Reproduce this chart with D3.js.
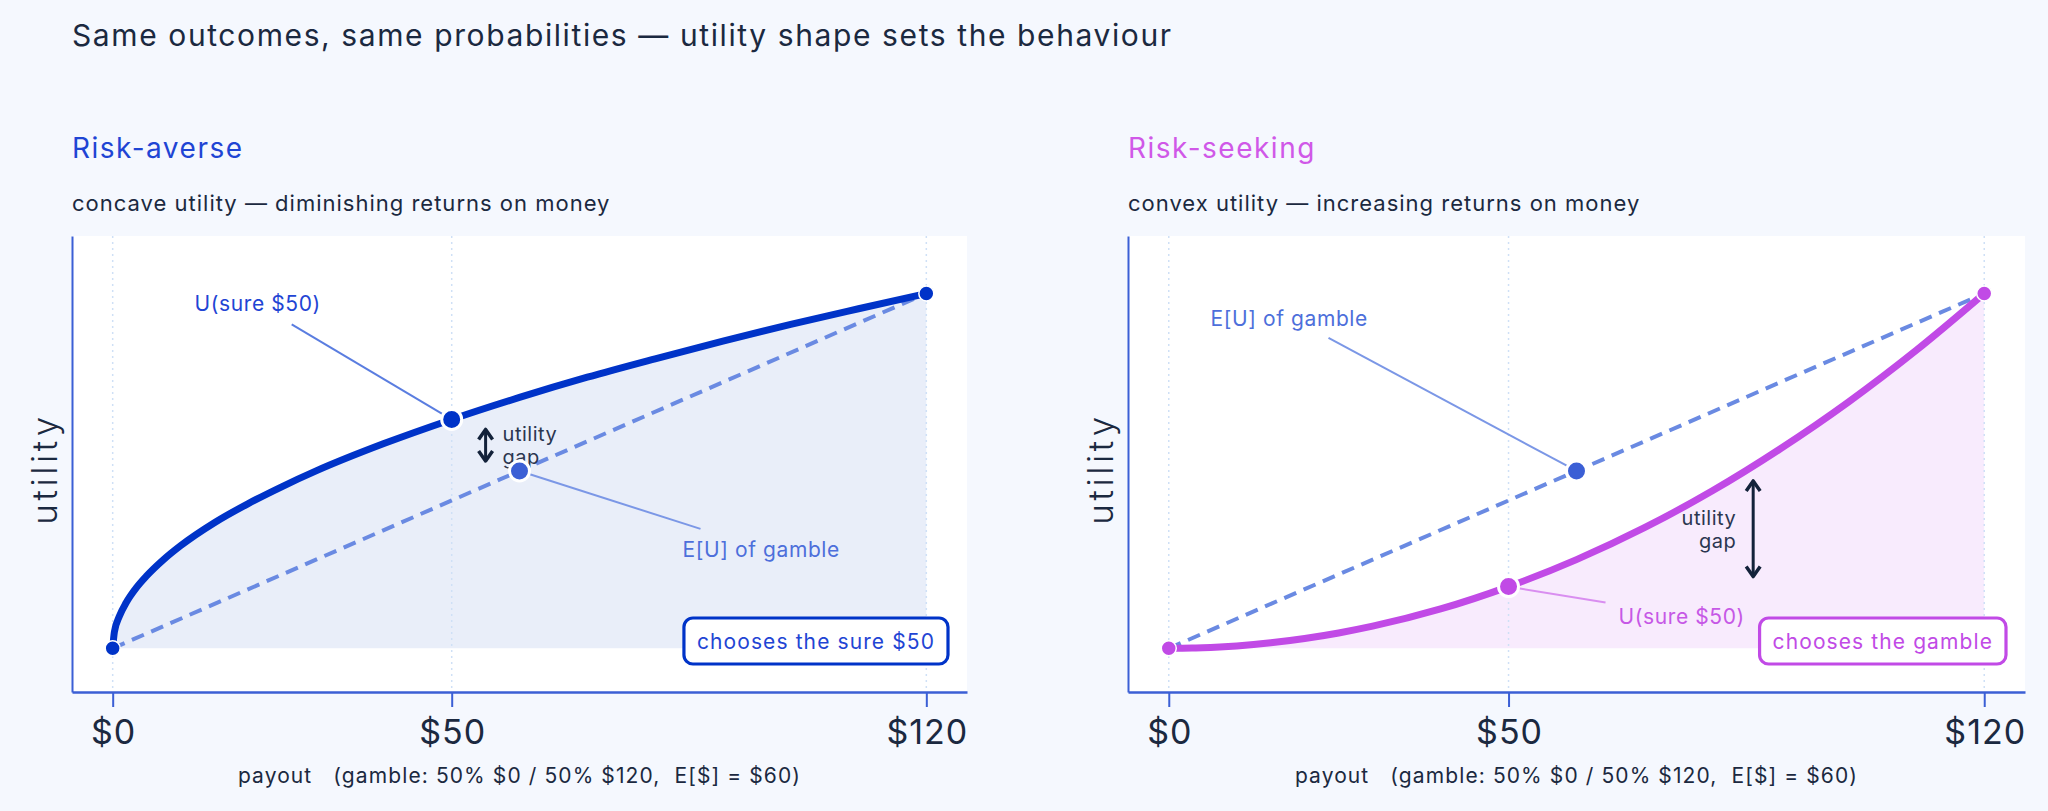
<!DOCTYPE html>
<html>
<head>
<meta charset="utf-8">
<script src="https://cdn.jsdelivr.net/npm/d3@7"></script>
<style>
  body { margin: 0; background: #f5f8fe; }
  svg text { font-family: Inter, 'Noto Sans', sans-serif; }
</style>
</head>
<body>
<div id="chart"></div>
<script>
// values (utility normalised 0..1)
const payouts = [0, 0.25, 1, 2, 3.5, 5, 7.5, 10, 15, 20, 25, 30, 40, 50, 60, 70, 80, 90, 100, 110, 120]
const concaveUtility = [0, 0.046, 0.091, 0.129, 0.171, 0.204, 0.25, 0.289, 0.354, 0.408, 0.456, 0.5, 0.577, 0.645, 0.707, 0.764, 0.816, 0.866, 0.913, 0.957, 1]
const convexUtility = [0, 0, 0.0001, 0.0003, 0.0009, 0.0017, 0.0039, 0.0069, 0.0156, 0.0278, 0.0434, 0.0625, 0.111, 0.174, 0.25, 0.34, 0.444, 0.5625, 0.694, 0.84, 1]
const gamblePayouts = [0, 120]
const gambleUtility = [0, 1]
const sureAmount = 50
const gambleMean = 60
const gambleMeanUtility = 0.5
const gapPayout = [55, 86]
const tickValues = [0, 50, 120]
const tickLabels = ['$0', '$50', '$120']
const xDomain = [-6, 126]
const yDomain = [-0.123, 1.162]

const W = 2048, H = 811
const TOP = 236, BOTTOM = 692
const INK = '#1b2940'

const panels = [
  {
    x0: 72, x1: 967,
    title: 'Risk-averse', subtitle: 'concave utility \u2014 diminishing returns on money',
    utility: concaveUtility, gapAt: gapPayout[0],
    curve: '#0033c8', titleColor: '#1f45d4', fill: '#e9eef9', leader: '#5a7de0', verdictText: '#1f45d4',
    verdict: 'chooses the sure $50',
    sureLabel: { dx: -194, dy: -116, anchor: 'middle', lx: -160, ly: -95, color: '#1f45d4' },
    evLabel: { dx: 163, dy: 79, anchor: 'start', lx: 181, ly: 58 },
    gapSide: 'right',
  },
  {
    x0: 1128, x1: 2025,
    title: 'Risk-seeking', subtitle: 'convex utility \u2014 increasing returns on money',
    utility: convexUtility, gapAt: gapPayout[1],
    curve: '#c14ae6', titleColor: '#d058e8', fill: '#f8ebfd', leader: '#d98ef0', verdictText: '#c14ae6',
    verdict: 'chooses the gamble',
    sureLabel: { dx: 110, dy: 30, anchor: 'start', lx: 97, ly: 16, color: '#c658e6' },
    evLabel: { dx: -366, dy: -152, anchor: 'start', lx: -248, ly: -133 },
    gapSide: 'left',
  },
]

function createSVG(container) {
  return d3.select(container)
    .append('svg')
    .attr('width', W)
    .attr('height', H)
    .style('display', 'block')
}

function leaderLine(g, from, to, r, color) {
  const dx = to[0] - from[0], dy = to[1] - from[1]
  const len = Math.hypot(dx, dy)
  g.append('line')
    .attr('x1', from[0]).attr('y1', from[1])
    .attr('x2', to[0] - dx / len * r).attr('y2', to[1] - dy / len * r)
    .attr('stroke', color)
    .attr('stroke-width', 2)
}

function renderPanel(svg, p) {
  const xScale = d3.scaleLinear().domain(xDomain).range([p.x0, p.x1])
  const yScale = d3.scaleLinear().domain(yDomain).range([BOTTOM, TOP])
  const g = svg.append('g')
  const pts = payouts.map((x, i) => ({ x, u: p.utility[i] }))

  // headings
  g.append('text')
    .attr('x', p.x0).attr('y', 158)
    .attr('fill', p.titleColor)
    .style('font-size', '28px')
    .style('letter-spacing', '1.5px')
    .text(p.title)
  g.append('text')
    .attr('x', p.x0).attr('y', 211)
    .attr('fill', INK)
    .style('font-size', '22px')
    .style('letter-spacing', '1px')
    .text(p.subtitle)

  // plot background
  g.append('rect')
    .attr('x', p.x0).attr('y', TOP)
    .attr('width', p.x1 - p.x0).attr('height', BOTTOM - TOP)
    .attr('fill', '#ffffff')

  // area under utility curve
  const area = d3.area()
    .x(d => xScale(d.x))
    .y0(yScale(0))
    .y1(d => yScale(d.u))
    .curve(d3.curveMonotoneX)
  g.append('path')
    .datum(pts)
    .attr('d', area)
    .attr('fill', p.fill)

  // grid
  g.selectAll('.grid')
    .data(tickValues)
    .enter()
    .append('line')
    .attr('x1', d => xScale(d)).attr('x2', d => xScale(d))
    .attr('y1', TOP).attr('y2', BOTTOM)
    .attr('stroke', '#cfe0f6')
    .attr('stroke-width', 1.5)
    .attr('stroke-dasharray', '2,4')

  // axes
  const xAxis = d3.axisBottom(xScale)
    .tickValues(tickValues)
    .tickSizeInner(15)
    .tickSizeOuter(0)
    .tickPadding(13)
    .tickFormat((d, i) => tickLabels[i])
  const xg = g.append('g')
    .attr('transform', `translate(0, ${BOTTOM})`)
    .call(xAxis)
  xg.select('.domain').attr('stroke', '#3b5fd5').attr('stroke-width', 2.5)
  xg.selectAll('.tick line').attr('stroke', '#3b5fd5').attr('stroke-width', 2)
  xg.selectAll('.tick text')
    .attr('fill', INK)
    .attr('dx', '0.5px')
    .style('font-size', '34px')
    .style('letter-spacing', '1px')
    .style('font-family', 'Inter, sans-serif')

  const yAxis = d3.axisLeft(yScale).tickValues([]).tickSizeOuter(0)
  const yg = g.append('g')
    .attr('transform', `translate(${p.x0}, 0)`)
    .call(yAxis)
  yg.select('.domain').attr('stroke', '#3b5fd5').attr('stroke-width', 2)

  g.append('text')
    .attr('transform', `translate(${p.x0 - 28}, ${(TOP + BOTTOM) / 2 + 5}) rotate(-90)`)
    .attr('text-anchor', 'middle')
    .attr('dominant-baseline', 'central')
    .attr('fill', INK)
    .style('font-size', '35px')
    .style('font-weight', 300)
    .style('letter-spacing', '3.6px')
    .text('utility')

  g.append('text')
    .attr('x', (p.x0 + p.x1) / 2).attr('y', 783)
    .attr('text-anchor', 'middle')
    .attr('fill', INK)
    .style('font-size', '21px')
    .style('letter-spacing', '1.1px')
    .style('white-space', 'pre')
    .text('payout   (gamble: 50% $0 / 50% $120,  E[$] = $60)')

  // gamble chord
  const line = d3.line().x(d => xScale(d[0])).y(d => yScale(d[1]))
  g.append('path')
    .datum(gamblePayouts.map((x, i) => [x, gambleUtility[i]]))
    .attr('d', line)
    .attr('fill', 'none')
    .attr('stroke', '#6a8ae2')
    .attr('stroke-width', 4)
    .attr('stroke-dasharray', '13,8')

  // utility curve
  g.append('path')
    .datum(pts)
    .attr('d', d3.line().x(d => xScale(d.x)).y(d => yScale(d.u)).curve(d3.curveMonotoneX))
    .attr('fill', 'none')
    .attr('stroke', p.curve)
    .attr('stroke-width', 7)
    .attr('stroke-linecap', 'round')

  // outcome end points
  g.selectAll('.end')
    .data(gamblePayouts.map((x, i) => [x, gambleUtility[i]]))
    .enter()
    .append('circle')
    .attr('cx', d => xScale(d[0])).attr('cy', d => yScale(d[1]))
    .attr('r', 7.5)
    .attr('fill', p.curve)
    .attr('stroke', '#fff')
    .attr('stroke-width', 1.5)

  const sureU = p.utility[payouts.indexOf(sureAmount)]
  const sure = [xScale(sureAmount), yScale(sureU)]
  const ev = [xScale(gambleMean), yScale(gambleMeanUtility)]

  // gap arrow
  const ax = xScale(p.gapAt)
  const yHi = Math.min(yScale(sureU), yScale(gambleMeanUtility)) + 9
  const yLo = Math.max(yScale(sureU), yScale(gambleMeanUtility)) - 9
  g.append('line')
    .attr('x1', ax).attr('x2', ax).attr('y1', yHi + 1).attr('y2', yLo - 1)
    .attr('stroke', '#13223a').attr('stroke-width', 3)
  g.append('path')
    .attr('d', `M${ax - 7},${yHi + 11}L${ax},${yHi + 1}L${ax + 7},${yHi + 11}M${ax - 7},${yLo - 11}L${ax},${yLo - 1}L${ax + 7},${yLo - 11}`)
    .attr('fill', 'none')
    .attr('stroke', '#13223a').attr('stroke-width', 3.5)
    .attr('stroke-linejoin', 'round')
  const gapText = g.append('text')
    .attr('text-anchor', p.gapSide === 'right' ? 'start' : 'end')
    .attr('fill', '#2b3650')
    .style('font-size', '20px')
    .style('letter-spacing', '0.5px')
  const tx = p.gapSide === 'right' ? ax + 17 : ax - 17
  const my = (yHi + yLo) / 2
  gapText.append('tspan').attr('x', tx).attr('y', my - 11).attr('dominant-baseline', 'central').text('utility')
  gapText.append('tspan').attr('x', tx).attr('y', my + 12).attr('dominant-baseline', 'central').text('gap')

  // leaders + labels
  const sl = p.sureLabel
  leaderLine(g, [sure[0] + sl.lx, sure[1] + sl.ly], sure, 10, p.leader)
  const el = p.evLabel
  leaderLine(g, [ev[0] + el.lx, ev[1] + el.ly], ev, 10, '#7b97e6')

  g.append('text')
    .attr('x', sure[0] + sl.dx).attr('y', sure[1] + sl.dy)
    .attr('text-anchor', sl.anchor)
    .attr('dominant-baseline', 'central')
    .attr('fill', sl.color)
    .style('font-size', '21px')
    .style('letter-spacing', '0.6px')
    .text('U(sure $50)')
  g.append('text')
    .attr('x', ev[0] + el.dx).attr('y', ev[1] + el.dy)
    .attr('text-anchor', el.anchor)
    .attr('dominant-baseline', 'central')
    .attr('fill', '#4d6fdb')
    .style('font-size', '21px')
    .style('letter-spacing', '0.6px')
    .text('E[U] of gamble')

  g.append('circle')
    .attr('cx', ev[0]).attr('cy', ev[1]).attr('r', 10)
    .attr('fill', '#3b5fd5').attr('stroke', '#fff').attr('stroke-width', 3)
  g.append('circle')
    .attr('cx', sure[0]).attr('cy', sure[1]).attr('r', 10)
    .attr('fill', p.curve).attr('stroke', '#fff').attr('stroke-width', 3)

  // verdict box
  const box = g.append('g')
  const vt = box.append('text')
    .attr('y', 641)
    .attr('dominant-baseline', 'central')
    .attr('fill', p.verdictText)
    .style('font-size', '21px')
    .style('letter-spacing', '1.1px')
    .text(p.verdict)
  const tw = vt.node().getComputedTextLength()
  const bw = tw + 26
  const bx = p.x1 - 19 - bw
  vt.attr('x', bx + 13)
  box.insert('rect', 'text')
    .attr('x', bx).attr('y', 618)
    .attr('width', bw).attr('height', 46)
    .attr('rx', 9)
    .attr('fill', '#fff')
    .attr('stroke', p.curve)
    .attr('stroke-width', 3.2)
}

const svg = createSVG('#chart')
svg.append('rect').attr('width', W).attr('height', H).attr('fill', '#f5f8fe')
svg.append('text')
  .attr('x', 72).attr('y', 46)
  .attr('fill', INK)
  .style('font-size', '30px')
  .style('letter-spacing', '1.6px')
  .text('Same outcomes, same probabilities \u2014 utility shape sets the behaviour')
panels.forEach(p => renderPanel(svg, p))
</script>
</body>
</html>
